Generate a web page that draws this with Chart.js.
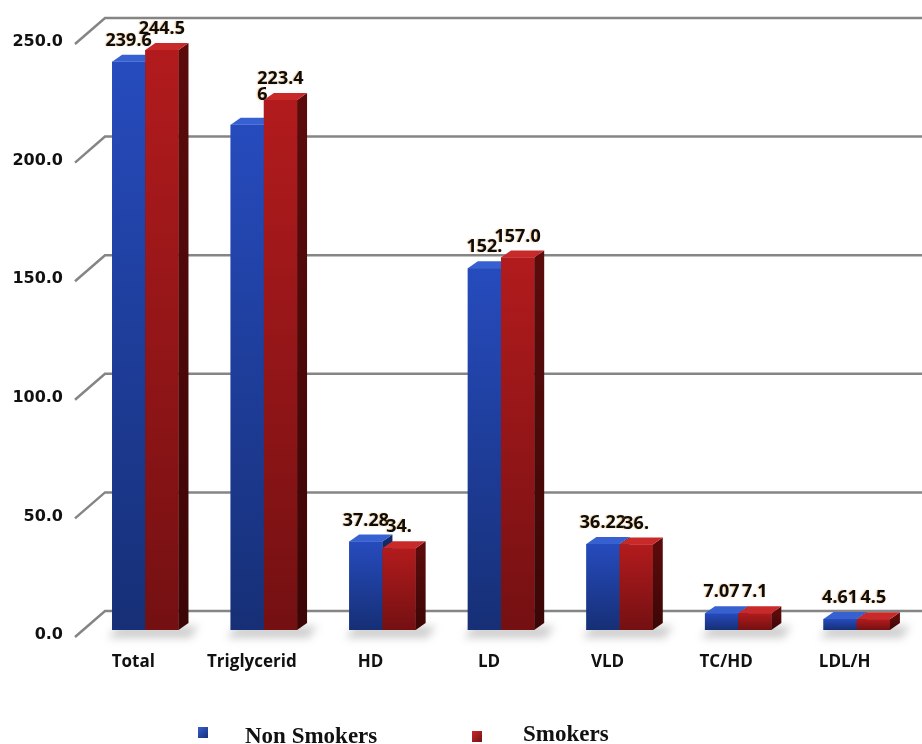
<!DOCTYPE html>
<html>
<head>
<meta charset="utf-8">
<script src="https://cdn.jsdelivr.net/npm/chart.js@4/dist/chart.umd.min.js"></script>
<style>
  html, body { margin: 0; padding: 0; background: #ffffff; }
  #wrap { position: relative; width: 922px; height: 744px; }
  canvas { display: block; }
</style>
</head>
<body>
<div id="wrap"><canvas id="c" width="922" height="744"></canvas></div>
<script>
// ---- data ----
const categories = ['Total', 'Triglycerid', 'HD', 'LD', 'VLD', 'TC/HD', 'LDL/H'];
const nonSmokers = [239.6, 213.0, 37.28, 152.5, 36.22, 7.07, 4.61];
const smokers = [244.5, 223.46, 34.5, 157.0, 36.0, 7.1, 4.5];
const nonSmokerLabels = ['239.6', '', '37.28', '152.', '36.22', '7.07', '4.61'];
const smokerLabels = ['244.5', '223.4\n6', '34.', '157.0', '36.', '7.1', '4.5'];
const seriesNames = ['Non Smokers', 'Smokers'];
const yMin = 0, yMax = 250, yStep = 50;

// ---- styling ----
const DX = 10, DY = 7;
const palette = [
  { top: '#264bbd', bottom: '#162f76', cap: '#3760d0', side: '#122a66', sideB: '#0c1d48' },
  { top: '#b21b1d', bottom: '#741012', cap: '#c82a2a', side: '#5c0b0b', sideB: '#3c0606' }
];

function frontGradient(idx) {
  return function (ctx) {
    const chart = ctx.chart;
    if (!chart.chartArea || !chart.scales.y) return palette[idx].top;
    const v = ctx.dataset.data[ctx.dataIndex];
    const y0 = chart.scales.y.getPixelForValue(v);
    const y1 = chart.scales.y.getPixelForValue(0);
    const g = chart.ctx.createLinearGradient(0, y0, 0, Math.max(y1, y0 + 1));
    g.addColorStop(0, palette[idx].top);
    g.addColorStop(1, palette[idx].bottom);
    return g;
  };
}

function drawFaces(chart, meta, idx) {
  const c = chart.ctx, p = palette[idx];
  const base = chart.scales.y.getPixelForValue(0);
  meta.data.forEach((el) => {
    const l = el.x - el.width / 2, r = el.x + el.width / 2, t = el.y;
    const gs = c.createLinearGradient(0, t, 0, base);
    gs.addColorStop(0, p.side);
    gs.addColorStop(1, p.sideB);
    c.fillStyle = gs;
    c.beginPath();
    c.moveTo(r, t);
    c.lineTo(r + DX, t - DY);
    c.lineTo(r + DX, base - DY);
    c.lineTo(r, base);
    c.closePath();
    c.fill();
    c.fillStyle = p.cap;
    c.beginPath();
    c.moveTo(l, t);
    c.lineTo(l + DX, t - DY);
    c.lineTo(r + DX, t - DY);
    c.lineTo(r, t);
    c.closePath();
    c.fill();
  });
}

const grid3D = {
  id: 'grid3D',
  beforeDatasetsDraw(chart) {
    const c = chart.ctx, ys = chart.scales.y;
    c.save();
    const m0 = chart.getDatasetMeta(0), m1 = chart.getDatasetMeta(1);
    c.filter = 'blur(4px)';
    c.fillStyle = 'rgba(90,90,90,0.3)';
    const base = ys.getPixelForValue(0);
    for (let i = 0; i < categories.length; i++) {
      const b0 = m0.data[i], b1 = m1.data[i];
      if (!b0 || !b1) continue;
      const l = b0.x - b0.width / 2, r = b1.x + b1.width / 2 + DX;
      c.beginPath();
      c.moveTo(l - 4, base + 8);
      c.lineTo(r + 2, base + 8);
      c.lineTo(r + 10, base - 4);
      c.lineTo(l + 6, base - 4);
      c.closePath();
      c.fill();
    }
    c.filter = 'none';
    c.strokeStyle = '#858585';
    c.lineWidth = 2.5;
    for (let v = yMin; v <= yMax; v += yStep) {
      const y = ys.getPixelForValue(v);
      c.beginPath();
      c.moveTo(75, y + 7);
      c.lineTo(105, y - 19);
      c.lineTo(chart.width, y - 19);
      c.stroke();
    }
    c.restore();
  },
  afterDatasetsDraw(chart) {
    const c = chart.ctx;
    c.save();
    [0, 1].forEach((d) => {
      const meta = chart.getDatasetMeta(d);
      meta.data.forEach((el) => el.draw(c, chart.chartArea));
      drawFaces(chart, meta, d);
    });
    c.restore();
  }
};

const valueLabels = {
  id: 'valueLabels',
  afterDraw(chart) {
    const c = chart.ctx;
    const sets = [nonSmokerLabels, smokerLabels];
    c.save();
    c.font = 'bold 18px "Open Sans"';
    c.fillStyle = '#0d0d0d';
    c.textBaseline = 'middle';
    c.textAlign = 'left';
    c.shadowColor = 'rgba(230,140,30,0.6)';
    c.shadowBlur = 1.5;
    c.shadowOffsetX = -1;
    c.shadowOffsetY = 0;
    [0, 1].forEach((d) => {
      const meta = chart.getDatasetMeta(d);
      meta.data.forEach((el, i) => {
        const txt = sets[d][i];
        if (!txt) return;
        const lines = txt.split('\n');
        const w = c.measureText(lines[0]).width;
        const left = el.x - w / 2;
        const y = el.y - 21;
        lines.forEach((ln, k) => c.fillText(ln, left, y + k * 16));
      });
    });
    c.restore();

    // legend
    c.save();
    const markers = [{ x: 198, y: 727 }, { x: 472, y: 731 }];
    const texts = [{ x: 245, y: 743 }, { x: 523, y: 741 }];
    [0, 1].forEach((d) => {
      const m = markers[d];
      const g = c.createLinearGradient(m.x, m.y, m.x + 10, m.y + 11);
      g.addColorStop(0, palette[d].cap);
      g.addColorStop(1, palette[d].bottom);
      c.fillStyle = g;
      c.fillRect(m.x, m.y, 10, 11);
      c.font = 'bold 23px "Liberation Serif"';
      c.fillStyle = '#111111';
      c.textBaseline = 'alphabetic';
      c.textAlign = 'left';
      c.fillText(seriesNames[d], texts[d].x, texts[d].y);
    });
    c.restore();
  }
};

new Chart(document.getElementById('c'), {
  type: 'bar',
  data: {
    labels: categories,
    datasets: [
      { label: seriesNames[0], data: nonSmokers, backgroundColor: frontGradient(0) },
      { label: seriesNames[1], data: smokers, backgroundColor: frontGradient(1) }
    ]
  },
  options: {
    responsive: false,
    animation: false,
    devicePixelRatio: 1,
    categoryPercentage: 0.56,
    barPercentage: 1.0,
    layout: { padding: { top: 37, right: 6, left: 0, bottom: 0 } },
    plugins: { legend: { display: false }, tooltip: { enabled: false } },
    scales: {
      x: {
        grid: { display: false, drawTicks: false },
        border: { display: false },
        ticks: {
          color: '#111111',
          font: { family: '"Open Sans"', weight: 'bold', size: 17 },
          labelOffset: -12,
          padding: 22
        },
        afterFit(s) { s.height = 114; }
      },
      y: {
        min: yMin,
        max: yMax,
        grid: { display: false, drawTicks: false },
        border: { display: false },
        ticks: {
          stepSize: yStep,
          color: '#111111',
          font: { family: '"DejaVu Sans"', weight: 'bold', size: 16 },
          padding: 23,
          labelOffset: 5,
          callback: (v) => Number(v).toFixed(1)
        },
        afterFit(s) { s.width = 86; }
      }
    }
  },
  plugins: [grid3D, valueLabels]
});
</script>
</body>
</html>
